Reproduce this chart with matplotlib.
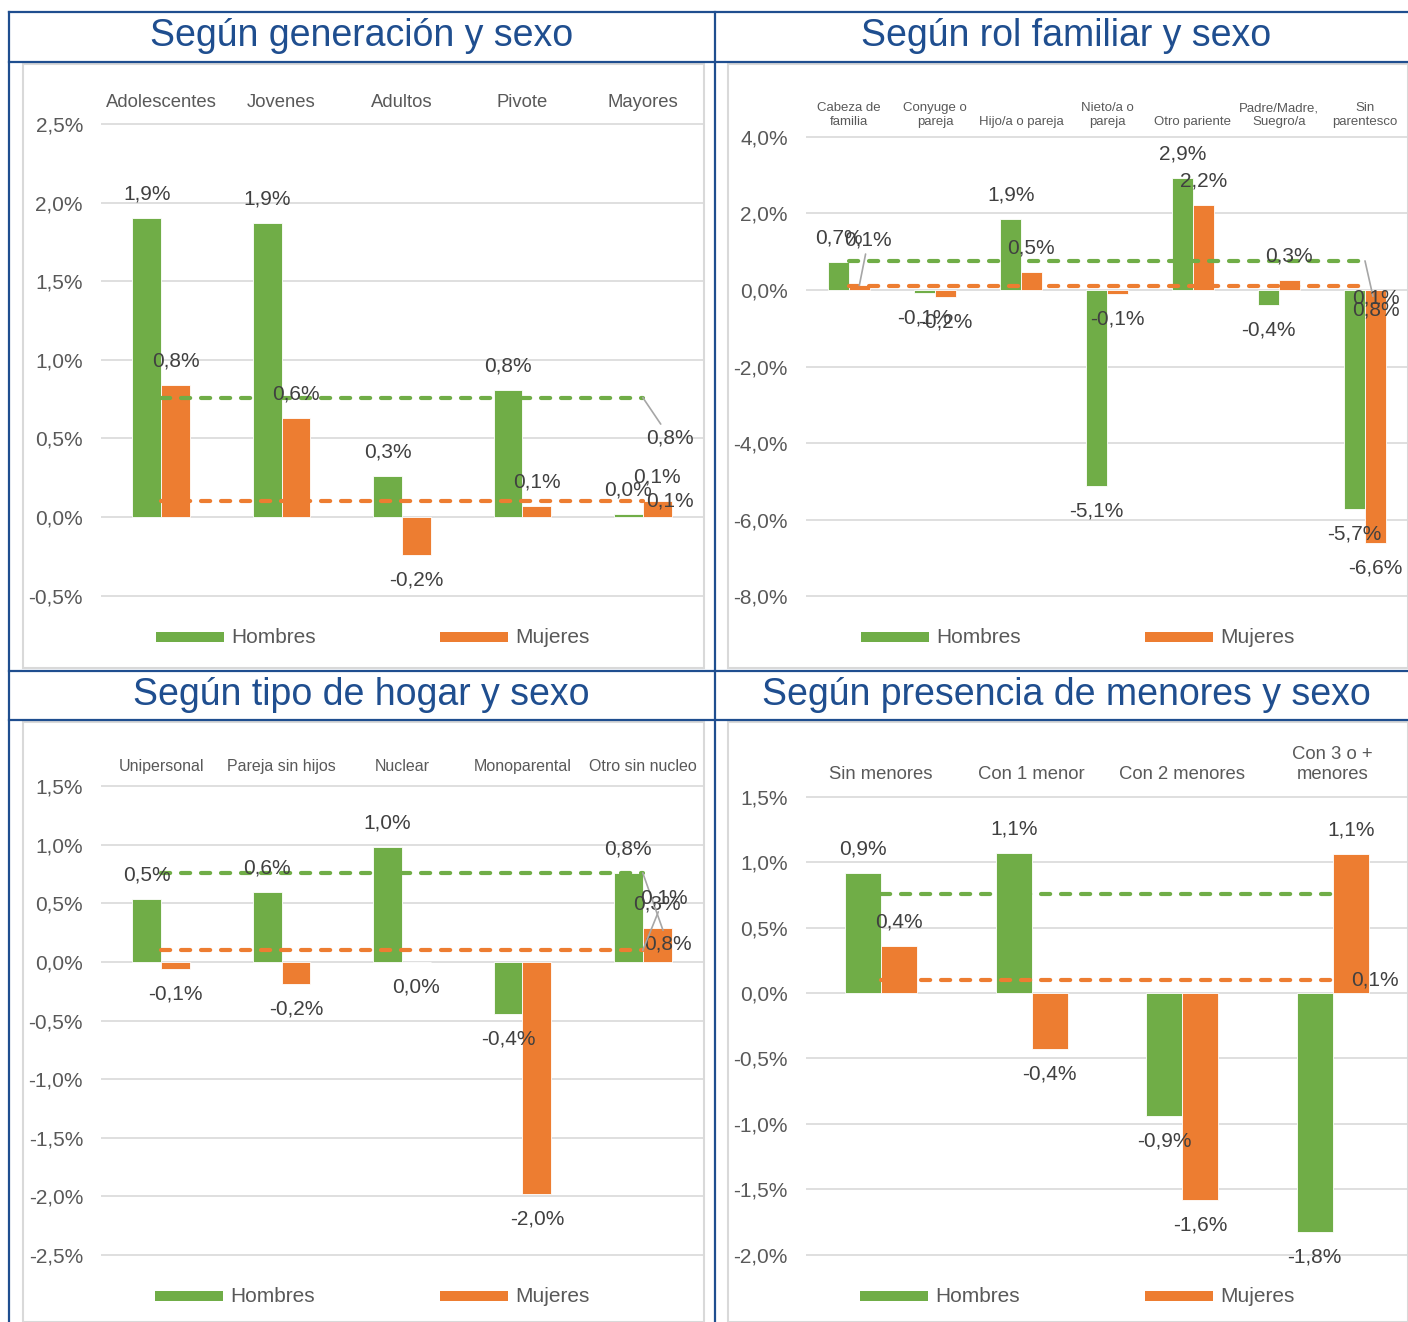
import matplotlib
matplotlib.use("Agg")
import matplotlib.pyplot as plt
from matplotlib.patches import Rectangle
from matplotlib.lines import Line2D
import numpy as np

plt.rcParams['font.family'] = ['Liberation Sans', 'DejaVu Sans']

# ---- data ----
gen_cats = ['Adolescentes', 'Jovenes', 'Adultos', 'Pivote', 'Mayores']
gen_hombres = [1.90, 1.87, 0.26, 0.81, 0.02]
gen_mujeres = [0.84, 0.63, -0.24, 0.07, 0.10]
gen_avg = [0.76, 0.10]
gen_ticks = [-0.5, 0.0, 0.5, 1.0, 1.5, 2.0, 2.5]

rol_cats = ['Cabeza de\nfamilia', 'Conyuge o\npareja', 'Hijo/a o pareja', 'Nieto/a o\npareja',
            'Otro pariente', 'Padre/Madre,\nSuegro/a', 'Sin\nparentesco']
rol_hombres = [0.73, -0.08, 1.85, -5.12, 2.92, -0.39, -5.72]
rol_mujeres = [0.12, -0.18, 0.47, -0.10, 2.22, 0.26, -6.60]
rol_avg = [0.76, 0.10]
rol_ticks = [-8.0, -6.0, -4.0, -2.0, 0.0, 2.0, 4.0]

hog_cats = ['Unipersonal', 'Pareja sin hijos', 'Nuclear', 'Monoparental', 'Otro sin nucleo']
hog_hombres = [0.54, 0.60, 0.98, -0.44, 0.76]
hog_mujeres = [-0.06, -0.19, -0.004, -1.98, 0.29]
hog_avg = [0.76, 0.10]
hog_ticks = [-2.5, -2.0, -1.5, -1.0, -0.5, 0.0, 0.5, 1.0, 1.5]

men_cats = ['Sin menores', 'Con 1 menor', 'Con 2 menores', 'Con 3 o +\nmenores']
men_hombres = [0.92, 1.07, -0.94, -1.83]
men_mujeres = [0.36, -0.43, -1.58, 1.06]
men_avg = [0.76, 0.10]
men_ticks = [-2.0, -1.5, -1.0, -0.5, 0.0, 0.5, 1.0, 1.5]

series_names = ['Hombres', 'Mujeres']

GREEN = '#70AD47'
ORANGE = '#ED7D31'
BLUE = '#1F4E8F'
GRID = '#D9D9D9'
TXT = '#595959'
LBL = '#404040'
LEADER = '#A6A6A6'

W, H = 1408, 1322
fig = plt.figure(figsize=(W / 100, H / 100), dpi=100)

def fx(x):
    return x / W

def fy(y):
    return 1 - y / H

def pt(px):
    return px * 0.72

def pct(v):
    v = round(v, 1)
    if v == 0:
        v = 0.0
    return ('%.1f%%' % v).replace('.', ',')

# panel frames and blue table lines
for (x0, y0, x1, y1) in [(23, 64, 704, 668), (728, 64, 1408, 668),
                         (23, 722, 704, 1322), (728, 722, 1408, 1322)]:
    fig.patches.append(Rectangle((fx(x0), fy(y1)), fx(x1 - x0), (y1 - y0) / H,
                                 transform=fig.transFigure, fill=False,
                                 edgecolor=GRID, lw=1.5))
for y in [12, 62, 671, 720]:
    fig.lines.append(Line2D([fx(9), 1], [fy(y), fy(y)], transform=fig.transFigure,
                            color=BLUE, lw=1.6))
for x in [9, 715]:
    fig.lines.append(Line2D([fx(x), fx(x)], [fy(12), 0], transform=fig.transFigure,
                            color=BLUE, lw=1.6))

# offsets in screen pixels (dx right, dy down); moved = data labels Excel pushed aside
panels = [
    dict(title='Según generación y sexo', tx=362, ty=36, cats=gen_cats, h=gen_hombres,
         m=gen_mujeres, avg=gen_avg, ticks=gen_ticks, box=(101, 66, 703, 666),
         zero=517, ppu=157.2, cat_fs=13.3, cat_y=111, leg_y=637, leg_x=(156, 440),
         avg_off=[(27, 40, True), (27, 0, False)], moved={}),
    dict(title='Según rol familiar y sexo', tx=1066, ty=36, cats=rol_cats, h=rol_hombres,
         m=rol_mujeres, avg=rol_avg, ticks=rol_ticks, box=(806, 66, 1408, 666),
         zero=290, ppu=38.3, cat_fs=9.5, cat_y=128, leg_y=637, leg_x=(861, 1145),
         avg_off=[(11, 49, True), (11, 12, False)], moved={(1, 0): (9, -45)}),
    dict(title='Según tipo de hogar y sexo', tx=361, ty=695, cats=hog_cats, h=hog_hombres,
         m=hog_mujeres, avg=hog_avg, ticks=hog_ticks, box=(101, 724, 703, 1320),
         zero=962, ppu=117.2, cat_fs=11.5, cat_y=774, leg_y=1296, leg_x=(155, 440),
         avg_off=[(25, 71, True), (21, -52, True)], moved={}),
    dict(title='Según presencia de menores y sexo', tx=1066, ty=695, cats=men_cats,
         h=men_hombres, m=men_mujeres, avg=men_avg, ticks=men_ticks,
         box=(806, 724, 1408, 1320), zero=993, ppu=130.8, cat_fs=13.3, cat_y=783,
         leg_y=1296, leg_x=(860, 1145), avg_off=[None, (42, 0, False)], moved={}),
]

for p in panels:
    fig.text(fx(p['tx']), fy(p['ty']), p['title'], ha='center', va='center',
             fontsize=27, color=BLUE)

    x0, y0, x1, y1 = p['box']
    ax = fig.add_axes([fx(x0), fy(y1), fx(x1 - x0), (y1 - y0) / H])
    n = len(p['cats'])
    x = np.arange(n)
    ax.set_xlim(-0.5, n - 0.5)
    ax.set_ylim((p['zero'] - y1) / p['ppu'], (p['zero'] - y0) / p['ppu'])
    ax.patch.set_alpha(0)
    for s in ax.spines.values():
        s.set_visible(False)
    ax.set_xticks([])
    ax.set_yticks(p['ticks'])
    ax.set_yticklabels([pct(t) for t in p['ticks']])
    ax.tick_params(axis='y', length=0, pad=pt(18), labelsize=15, labelcolor=TXT)
    for t in p['ticks']:
        ax.axhline(t, color=GRID, lw=1.2, zorder=0)

    w = 0.24
    for si, (vals, off, col) in enumerate([(p['h'], -w / 2, GREEN), (p['m'], w / 2, ORANGE)]):
        ax.bar(x + off, vals, width=w, color=col, edgecolor='white', lw=0.6, zorder=2)
        for i, (xi, v) in enumerate(zip(x + off, vals)):
            kw = {}
            if (si, i) in p['moved']:
                dx, dy = p['moved'][(si, i)]
                kw['arrowprops'] = dict(arrowstyle='-', color=LEADER, lw=1.2,
                                        shrinkA=1, shrinkB=0)
            else:
                dx, dy = 0, (-24 if v >= 0 else 25)
            ax.annotate(pct(v), (xi, v), xytext=(pt(dx), -pt(dy)), textcoords='offset points',
                        ha='center', va='center', fontsize=15, color=LBL, zorder=5, **kw)

    for val, col, lab in zip(p['avg'], [GREEN, ORANGE], p['avg_off']):
        ax.plot(x, [val] * n, color=col, lw=3, ls=(0, (2.2, 2.6)),
                dash_capstyle='round', zorder=3)
        if lab is None:
            continue
        dx, dy, leader = lab
        kw = {}
        if leader:
            kw['arrowprops'] = dict(arrowstyle='-', color=LEADER, lw=1.2,
                                    shrinkA=1, shrinkB=0)
        ax.annotate(pct(val), (n - 1, val), xytext=(pt(dx), -pt(dy)),
                    textcoords='offset points', ha='center', va='center',
                    fontsize=15, color=LBL, zorder=5, **kw)

    cat_y = (p['zero'] - p['cat_y']) / p['ppu']
    for xi, c in zip(x, p['cats']):
        ax.text(xi, cat_y, c, ha='center', va='bottom', fontsize=p['cat_fs'],
                color=TXT, linespacing=1.2)

    # legend
    for lx, col, name in zip(p['leg_x'], [GREEN, ORANGE], series_names):
        fig.patches.append(Rectangle((fx(lx), fy(p['leg_y'] + 5)), fx(68), 10 / H,
                                     transform=fig.transFigure, facecolor=col,
                                     edgecolor='none'))
        fig.text(fx(lx + 75), fy(p['leg_y']), name, ha='left', va='center',
                 fontsize=15, color=TXT)

fig.savefig('out.png', dpi=100)
